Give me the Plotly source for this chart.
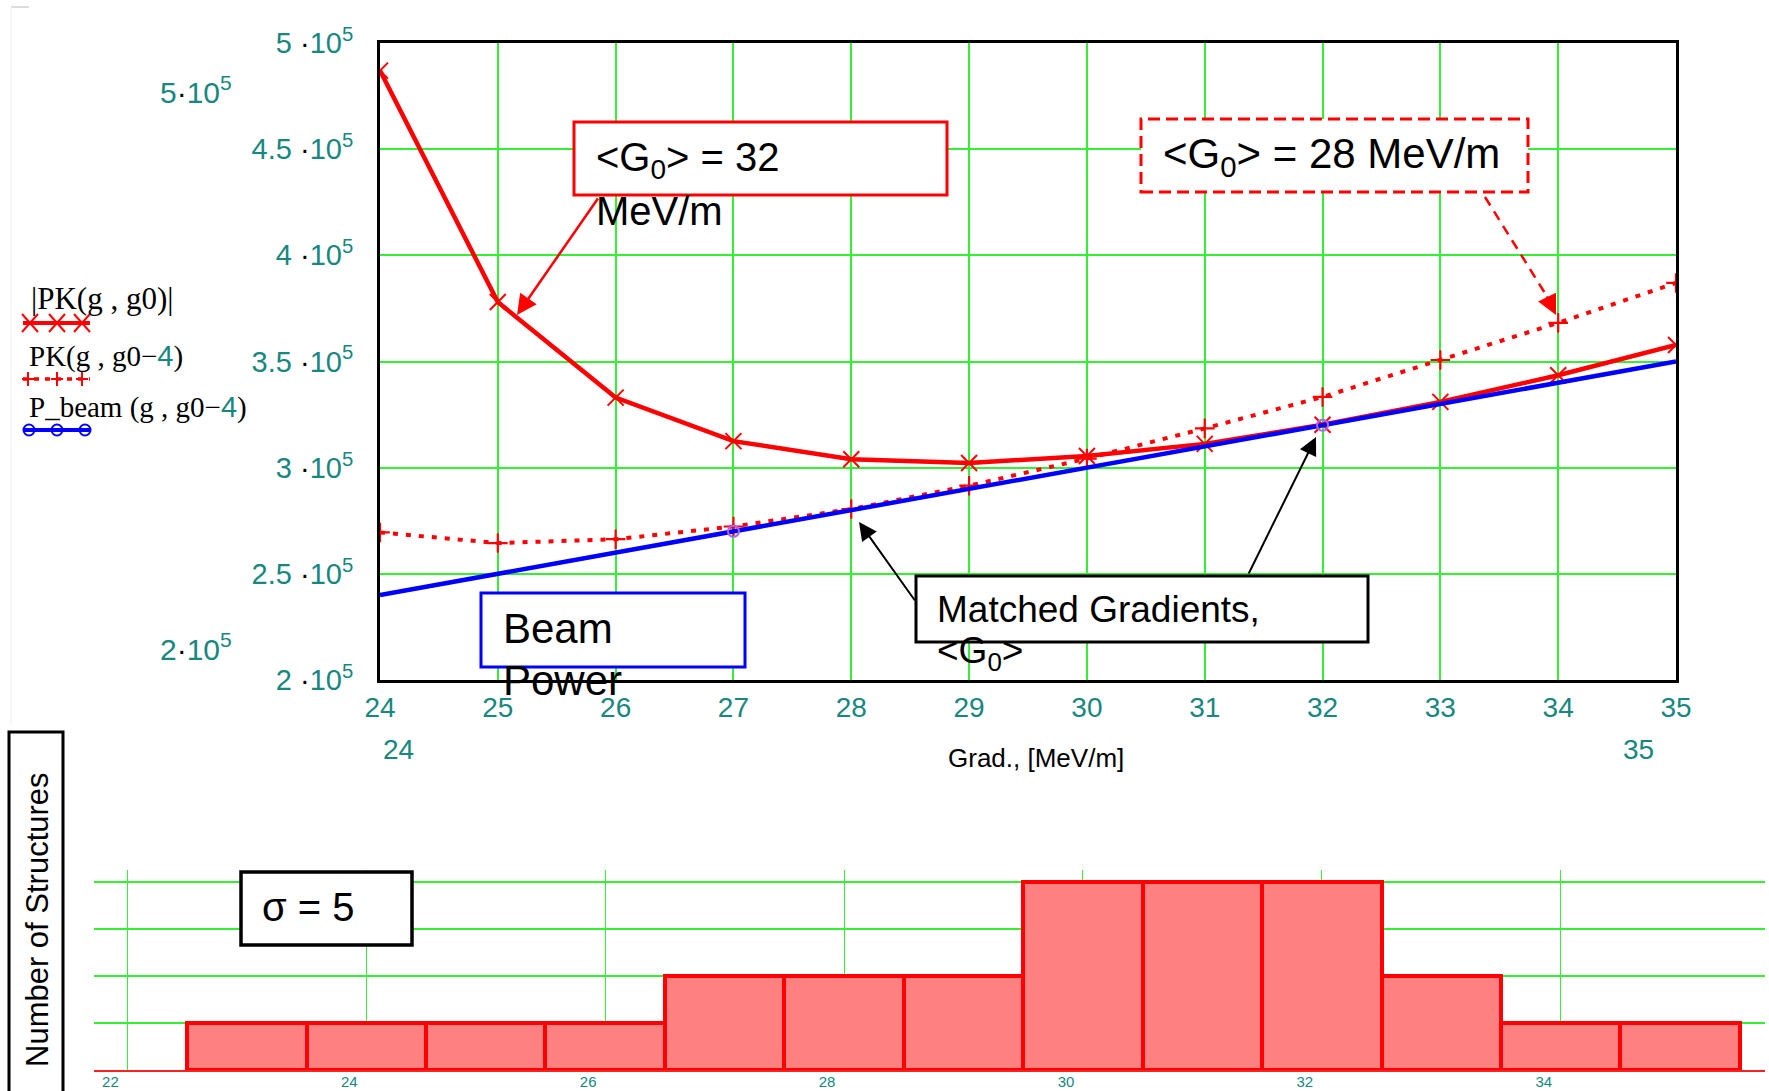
import plotly.graph_objects as go

# ---------------- data ----------------
grad = [24, 25, 26, 27, 28, 29, 30, 31, 32, 33, 34, 35]
pk_g0 = [487000, 378000, 333000, 312500, 304000, 302200, 305500, 311200, 320200, 331000, 343500, 357800]
pk_g0_m4 = [269500, 264500, 266300, 272300, 280500, 291500, 304300, 318500, 333300, 350700, 368200, 387000]
p_beam = [240000, 250000, 260000, 270000, 280000, 290000, 300000, 310000, 320000, 330000, 340000, 350000]
beam_marker_idx = [3, 8]

hist_centers = [23, 24, 25, 26, 27, 28, 29, 30, 31, 32, 33, 34, 35]
hist_counts = [1, 1, 1, 1, 2, 2, 2, 4, 4, 4, 2, 1, 1]

y_tick_vals = [200000, 250000, 300000, 350000, 400000, 450000, 500000]
y_tick_mant = ["2", "2.5", "3", "3.5", "4", "4.5", "5"]
hist_tick_vals = [22, 24, 26, 28, 30, 32, 34]

# ---------------- helpers ----------------
W, H = 1769, 1091
TEAL = "#17877f"
GREEN = "#33f033"
RED = "#ff0000"
BLUE = "#0000ff"
SANS = "Liberation Sans, Arial, sans-serif"
SERIF = "Liberation Serif, Times New Roman, serif"


def X(p):
    return p / W


def Y(p):
    return 1 - p / H


DOT = "<span style='color:black'>·</span>"
y_tick_text = [f"{m} {DOT}10<sup>5</sup>" for m in y_tick_mant]

fig = go.Figure()

# ---------------- top plot traces ----------------
fig.add_trace(go.Scatter(
    x=grad, y=pk_g0_m4, mode="lines+markers", name="PK(g, g0-4)",
    line=dict(color=RED, width=4, dash="5px,8px"),
    marker=dict(symbol="cross-thin", size=14, line=dict(width=2.2, color=RED)),
    xaxis="x", yaxis="y"))
fig.add_trace(go.Scatter(
    x=grad, y=pk_g0, mode="lines+markers", name="|PK(g, g0)|",
    line=dict(color=RED, width=4.5),
    marker=dict(symbol="x-thin", size=16, line=dict(width=2, color=RED)),
    xaxis="x", yaxis="y"))
fig.add_trace(go.Scatter(
    x=grad, y=p_beam, mode="lines", name="P_beam(g, g0-4)",
    line=dict(color=BLUE, width=4.5), xaxis="x", yaxis="y"))
fig.add_trace(go.Scatter(
    x=[grad[i] for i in beam_marker_idx], y=[p_beam[i] for i in beam_marker_idx],
    mode="markers", showlegend=False,
    marker=dict(symbol="circle-open", size=11, line=dict(width=2, color=BLUE)),
    xaxis="x", yaxis="y"))

# ---------------- histogram ----------------
fig.add_trace(go.Bar(
    x=hist_centers, y=hist_counts, width=1,
    marker=dict(color="#ff8080", line=dict(color=RED, width=4)),
    xaxis="x2", yaxis="y2"))

shapes = []
annotations = []


def box(x0, y0, x1, y1, color, width=3, dash=None, fill="white"):
    ln = dict(color=color, width=width)
    if dash:
        ln["dash"] = dash
    shapes.append(dict(type="rect", xref="paper", yref="paper",
                       x0=X(x0), x1=X(x1), y0=Y(y1), y1=Y(y0),
                       line=ln, fillcolor=fill, layer="above"))


def seg(x0, y0, x1, y1, color, width=2, dash=None):
    ln = dict(color=color, width=width)
    if dash:
        ln["dash"] = dash
    shapes.append(dict(type="line", xref="paper", yref="paper",
                       x0=X(x0), x1=X(x1), y0=Y(y0), y1=Y(y1), line=ln, layer="above"))


def text(x, y, s, size, color="black", xanchor="left", yanchor="middle", family=SANS, angle=0):
    annotations.append(dict(xref="paper", yref="paper", x=X(x), y=Y(y), text=s,
                            showarrow=False, xanchor=xanchor, yanchor=yanchor,
                            font=dict(size=size, color=color, family=family),
                            textangle=angle, borderpad=0))


def arrow(tx, ty, hx, hy, color, width=2, size=1.6, head=2):
    annotations.append(dict(xref="paper", yref="paper", x=X(hx), y=Y(hy),
                            ax=tx - hx, ay=ty - hy, axref="pixel", ayref="pixel",
                            text="", showarrow=True, arrowhead=head, arrowsize=size,
                            arrowwidth=width, arrowcolor=color, standoff=0, startstandoff=0))


# faint frame remnants top-left
seg(11, 7, 29, 7, "#dddddd", 2)
seg(11, 7, 11, 725, "#f2f2f2", 1)

# boxes
box(574, 122, 947, 195, RED, 3)
box(1141, 119, 1528, 192, RED, 3, dash="12px,6px")
box(481, 593, 745, 667, BLUE, 3)
box(916, 576, 1368, 642, "black", 3)
box(241, 872, 412, 945, "black", 3.5)
box(9, 732, 63, 1100, "black", 3, fill="rgba(0,0,0,0)")

# box texts
text(595, 160, "&lt;G<sub>0</sub>&gt; = 32", 40)
text(595, 211, "MeV/m", 40)
text(1162, 156, "&lt;G<sub>0</sub>&gt; = 28 MeV/m", 42)
text(502, 628, "Beam", 42)
text(502, 680, "Power", 42)
text(936, 609, "Matched Gradients,", 37)
text(936, 653, "&lt;G<sub>0</sub>&gt;", 37)
text(261, 907, "σ = 5", 40)
text(37, 920, "Number of Structures", 31, xanchor="center", angle=-90)

# arrows
arrow(599, 197, 517, 315, RED, width=2.5, size=1.6)
seg(1485, 197, 1548, 298, RED, 2.5, dash="10px,7px")
arrow(1546, 295, 1556, 315, RED, width=2.5, size=1.6)
arrow(916, 602, 859, 522, "black", width=2, size=1.8)
arrow(1248, 575, 1316, 437, "black", width=2, size=1.8)

# axis title and extra limit labels
text(1036, 758, "Grad., [MeV/m]", 26, xanchor="center")
text(398, 749, "24", 28, color=TEAL, xanchor="center")
text(1638, 749, "35", 28, color=TEAL, xanchor="center")
text(233, 90, f"5{DOT}10<sup>5</sup>", 30, color=TEAL, xanchor="right")
text(233, 647, f"2{DOT}10<sup>5</sup>", 30, color=TEAL, xanchor="right")

# legend (Mathcad style: label above its line sample)
FOUR = f"<span style='color:{TEAL};font-family:Liberation Sans'>4</span>"
text(30, 298, "|PK(g , g0)|", 31, family=SERIF)
text(28, 356, f"PK(g , g0−{FOUR})", 29, family=SERIF)
text(28, 407, f"P_beam (g , g0−{FOUR})", 29, family=SERIF)

seg(23, 323, 90, 323, RED, 4)
for cx in (30, 57, 82):
    seg(cx - 8, 314, cx + 8, 332, RED, 2)
    seg(cx - 8, 332, cx + 8, 314, RED, 2)
seg(23, 379, 90, 379, RED, 3.5, dash="5px,6px")
for cx in (28, 57, 82):
    seg(cx - 6, 379, cx + 6, 379, RED, 2)
    seg(cx, 372, cx, 386, RED, 2)
seg(23, 430, 90, 430, BLUE, 4)
for cx in (29, 57, 85):
    shapes.append(dict(type="circle", xref="paper", yref="paper",
                       x0=X(cx - 5.5), x1=X(cx + 5.5), y0=Y(435.5), y1=Y(424.5),
                       line=dict(color=BLUE, width=2), layer="above"))

fig.update_layout(
    width=W, height=H, margin=dict(l=0, r=0, t=0, b=0, autoexpand=False),
    paper_bgcolor="white", plot_bgcolor="white",
    showlegend=False, bargap=0,
    font=dict(family=SANS),
    xaxis=dict(domain=[X(380), X(1676)], range=[24, 35], anchor="y", automargin=False,
               tickvals=grad, ticks="", showgrid=True, gridcolor=GREEN, gridwidth=1.5,
               showline=True, mirror=True, linecolor="black", linewidth=3,
               zeroline=False, tickfont=dict(size=28, color=TEAL), ticklabelstandoff=0),
    yaxis=dict(domain=[Y(680), Y(43)], range=[200000, 500000], anchor="x", automargin=False,
               tickvals=y_tick_vals, ticktext=y_tick_text, ticks="",
               showgrid=True, gridcolor=GREEN, gridwidth=1.5,
               showline=True, mirror=True, linecolor="black", linewidth=3,
               zeroline=False, tickfont=dict(size=29, color=TEAL), ticklabelstandoff=18),
    xaxis2=dict(domain=[X(94), X(1765)], range=[21.72, 35.71], anchor="y2", automargin=False,
                tickvals=hist_tick_vals, ticks="", showgrid=True, gridcolor=GREEN, gridwidth=1,
                showline=True, linecolor="#ff2020", linewidth=2, zeroline=False,
                tickfont=dict(size=15, color=TEAL), ticklabelshift=-17, ticklabelstandoff=-3),
    yaxis2=dict(domain=[Y(1070), Y(870)], range=[0, 4.26], anchor="x2", automargin=False,
                tickvals=[1, 2, 3, 4], showticklabels=False, ticks="",
                showgrid=True, gridcolor=GREEN, gridwidth=1.5, zeroline=False, showline=False),
    shapes=shapes, annotations=annotations,
)

fig.write_html("out.html", config={"displayModeBar": False})
